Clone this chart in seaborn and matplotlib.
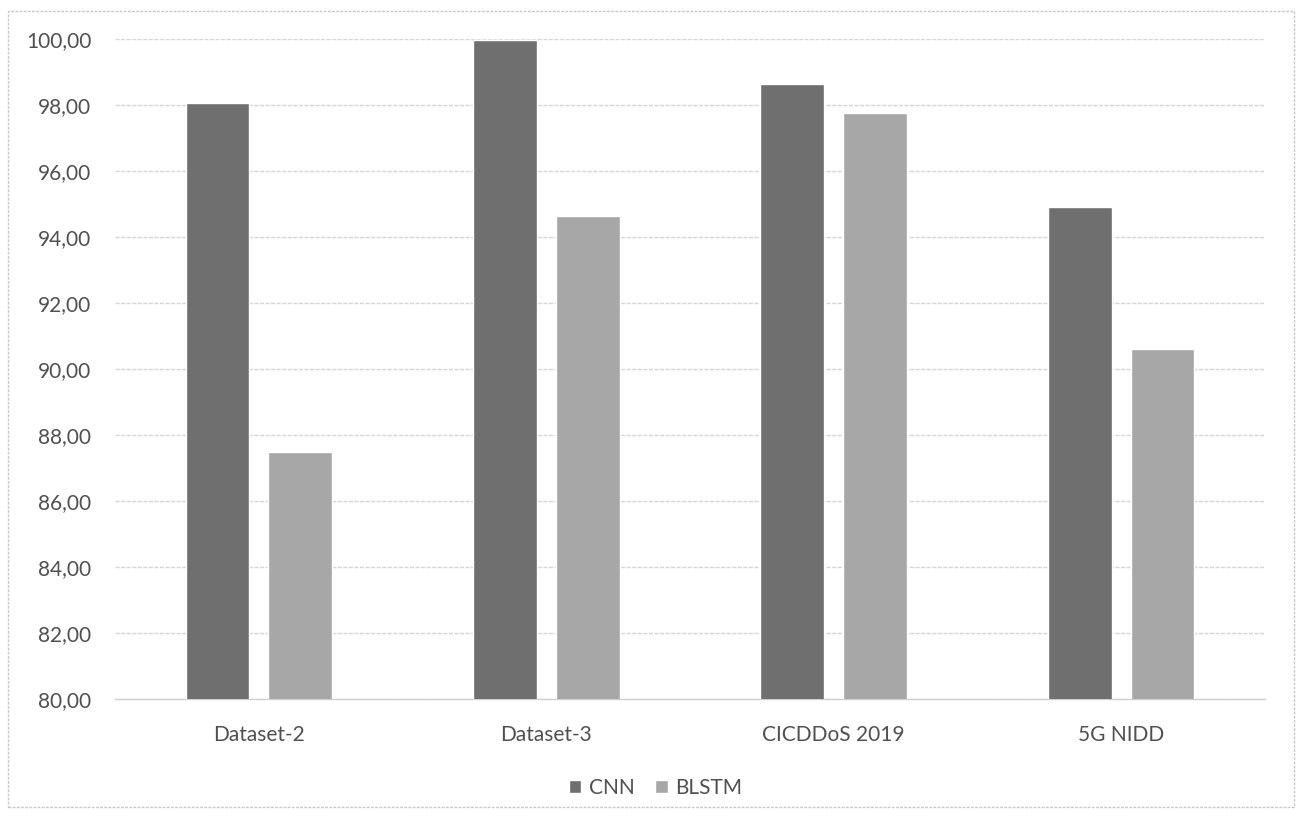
import matplotlib
matplotlib.use("Agg")
import matplotlib.pyplot as plt
import seaborn as sns
import pandas as pd
from matplotlib.patches import Rectangle
from matplotlib.ticker import FuncFormatter, MultipleLocator

# Accuracy (%) per dataset for each model
datasets = ["Dataset-2", "Dataset-3", "CICDDoS 2019", "5G NIDD"]
cnn_acc = [98.08, 99.98, 98.64, 94.93]
blstm_acc = [87.48, 94.66, 97.78, 90.62]
models = ["CNN", "BLSTM"]

df = pd.DataFrame({
    "Dataset": datasets * 2,
    "Model": [models[0]] * len(datasets) + [models[1]] * len(datasets),
    "Accuracy": cnn_acc + blstm_acc,
})

sns.set_theme(style="white")
plt.rcParams["font.family"] = ["Lato", "DejaVu Sans"]

text_color = "#505050"
palette = {"CNN": "#6f6f6f", "BLSTM": "#a7a7a7"}

fig = plt.figure(figsize=(13.03, 8.19), dpi=100)
ax = fig.add_axes([0.0883, 0.1465, 0.8825, 0.8053])

sns.barplot(data=df, x="Dataset", y="Accuracy", hue="Model", palette=palette,
            width=0.576, gap=0.23, saturation=1, ax=ax, legend=True, zorder=3)

ax.set_ylim(80, 100)
ax.set_xlim(-0.5, len(datasets) - 0.5)
ax.yaxis.set_major_locator(MultipleLocator(2))
ax.yaxis.set_major_formatter(FuncFormatter(lambda v, _: f"{v:.2f}".replace(".", ",")))
ax.grid(axis="y", color="#d6d6d6", linewidth=1.0, linestyle=(0, (3, 1)), zorder=0)
ax.set_axisbelow(True)
for side in ["top", "right", "left"]:
    ax.spines[side].set_visible(False)
ax.spines["bottom"].set_color("#cfcfcf")
ax.spines["bottom"].set_linewidth(1.0)
ax.set_xlabel("")
ax.set_ylabel("")
ax.tick_params(axis="x", length=0, pad=19, labelsize=15, labelcolor=text_color)
ax.tick_params(axis="y", length=0, pad=17, labelsize=15, labelcolor=text_color)

handles, labels = ax.get_legend_handles_labels()
ax.get_legend().remove()
fig.legend(handles, labels, loc="center", bbox_to_anchor=(0.503, 0.038), ncol=2,
           frameon=False, fontsize=15, labelcolor=text_color, handlelength=0.6,
           handleheight=0.6, handletextpad=0.35, columnspacing=1.0)

# thin chart-area border around the whole figure
fig.patches.append(Rectangle((0.006, 0.015), 0.987, 0.971, transform=fig.transFigure,
                             fill=False, edgecolor="#c8c8c8", linewidth=1.0,
                             linestyle=(0, (2, 1))))

fig.savefig("out.png", dpi=100)
